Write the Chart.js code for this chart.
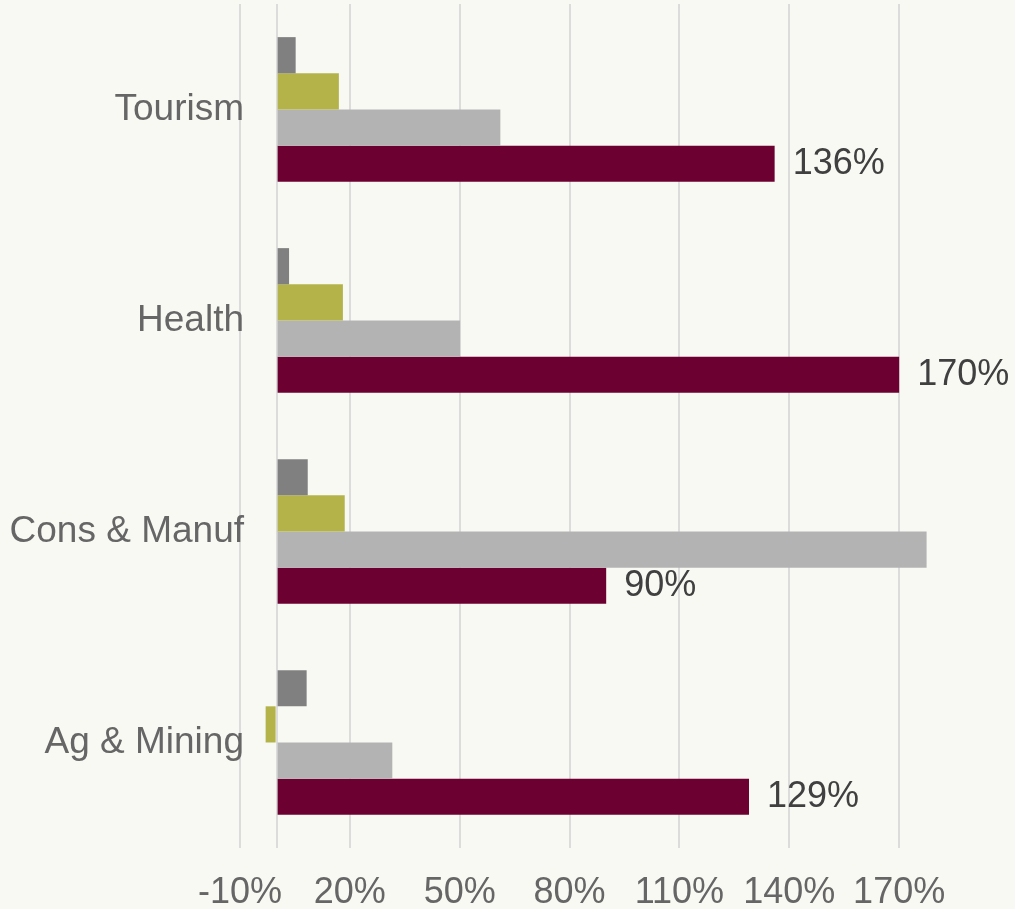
<!DOCTYPE html>
<html>
<head>
<meta charset="utf-8">
<script src="https://cdn.jsdelivr.net/npm/chart.js@4/dist/chart.umd.min.js"></script>
<style>
  html, body { margin: 0; padding: 0; background: #f9f9f4; }
  canvas { display: block; }
</style>
</head>
<body>
<canvas id="bars" width="1015" height="909"></canvas>
<script>
// categories, top to bottom
const categories = ['Tourism', 'Health', 'Cons & Manuf', 'Ag & Mining'];

// four series per category (values in %), drawn top to bottom inside each group
const seriesA = [5.2, 3.4, 8.5, 8.2];       // dark gray
const seriesB = [17.0, 18.1, 18.6, -3.0];   // olive
const seriesC = [61.1, 50.1, 177.5, 31.6];  // light gray
const seriesD = [136, 170, 90, 129];        // maroon, labelled

// value axis ticks
const tickValues = [-10, 0, 20, 50, 80, 110, 140, 170];

const textGray = '#666666';
const fontFam = '"Liberation Sans", Arial, sans-serif';

// % labels next to the maroon bars + category names (Chart.js clips y labels to the axis box,
// and here they run a few px into the plot like in the original)
const barLabels = {
  id: 'barLabels',
  afterDatasetsDraw(chart) {
    const ctx = chart.ctx;
    const meta = chart.getDatasetMeta(3);
    ctx.save();
    ctx.font = '36px ' + fontFam;
    ctx.fillStyle = '#404040';
    ctx.textAlign = 'left';
    ctx.textBaseline = 'middle';
    meta.data.forEach((bar, i) => {
      ctx.fillText(seriesD[i] + '%', bar.x + 18, bar.y);
    });

    const yScale = chart.scales.y;
    ctx.font = '37px ' + fontFam;
    ctx.fillStyle = textGray;
    ctx.textAlign = 'right';
    categories.forEach((c, i) => {
      ctx.fillText(c, yScale.right + 4, yScale.getPixelForValue(i));
    });
    ctx.restore();
  }
};

new Chart(document.getElementById('bars').getContext('2d'), {
  type: 'bar',
  data: {
    labels: categories,
    datasets: [
      { label: 'A', data: seriesA, backgroundColor: '#808080' },
      { label: 'B', data: seriesB, backgroundColor: '#b3b34a' },
      { label: 'C', data: seriesC, backgroundColor: '#b3b3b3' },
      { label: 'D', data: seriesD, backgroundColor: '#6c0030' }
    ]
  },
  options: {
    indexAxis: 'y',
    responsive: false,
    animation: false,
    devicePixelRatio: 1,
    categoryPercentage: 0.686,
    barPercentage: 1,
    layout: { padding: { top: 4, right: 6, left: 0, bottom: 0 } },
    plugins: {
      legend: { display: false },
      tooltip: { enabled: false }
    },
    scales: {
      x: {
        min: -10,
        max: 200,
        afterBuildTicks(scale) {
          scale.ticks = tickValues.map(v => ({ value: v }));
        },
        afterFit(scale) { scale.height = 61; },
        grid: { color: '#dcdcdc', lineWidth: 2, drawTicks: false },
        border: { display: false },
        ticks: {
          autoSkip: false,
          maxRotation: 0,
          padding: 23,
          color: textGray,
          font: { size: 36, family: fontFam },
          callback: v => v === 0 ? '' : v + '%'
        }
      },
      y: {
        afterFit(scale) { scale.width = 240; },
        grid: { display: false, drawTicks: false },
        border: { display: false },
        ticks: { display: false }
      }
    }
  },
  plugins: [barLabels]
});
</script>
</body>
</html>
